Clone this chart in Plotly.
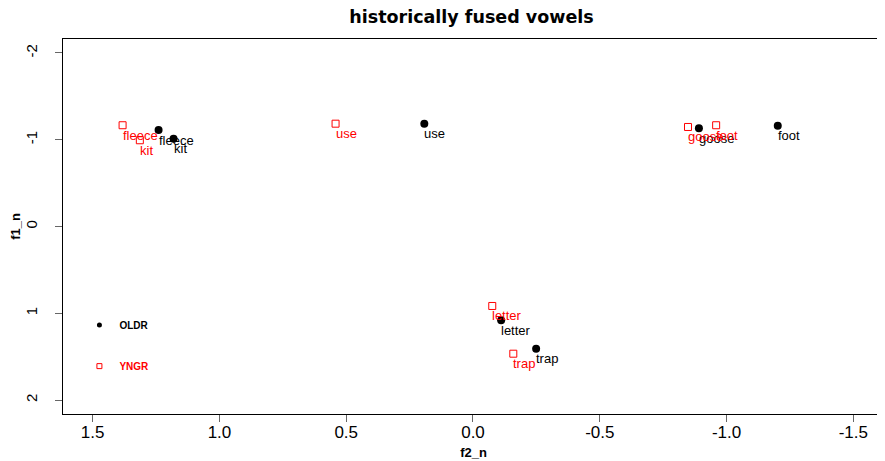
import plotly.graph_objects as go

vowels = ["fleece", "kit", "use", "goose", "foot", "letter", "trap"]
oldr_f2 = [1.240, 1.181, 0.192, -0.891, -1.202, -0.111, -0.249]
oldr_f1 = [-1.111, -1.011, -1.185, -1.132, -1.162, 1.081, 1.409]
yngr_f2 = [1.382, 1.314, 0.542, -0.848, -0.959, -0.076, -0.159]
yngr_f1 = [-1.167, -0.994, -1.185, -1.147, -1.167, 0.916, 1.466]
x_ticks = [1.5, 1.0, 0.5, 0.0, -0.5, -1.0, -1.5]
x_tick_labels = ["1.5", "1.0", "0.5", "0.0", "-0.5", "-1.0", "-1.5"]
y_ticks = [-2, -1, 0, 1, 2]
y_tick_labels = ["-2", "-1", "0", "1", "2"]

FONT = "Liberation Sans, Arial, sans-serif"
RED = "#FF0000"

fig = go.Figure()
fig.add_trace(go.Scatter(
    x=oldr_f2, y=oldr_f1, mode="markers",
    marker=dict(symbol="circle", size=8, color="black"),
    name="OLDR", showlegend=False, hoverinfo="skip"))
fig.add_trace(go.Scatter(
    x=yngr_f2, y=yngr_f1, mode="markers",
    marker=dict(symbol="square-open", size=7, color=RED, line=dict(width=1)),
    name="YNGR", showlegend=False, hoverinfo="skip"))
# legend entries
fig.add_trace(go.Scatter(
    x=[None], y=[None], mode="markers", name="<b>OLDR</b>", legendgroup="o",
    marker=dict(symbol="circle", size=5, color="black")))
fig.add_trace(go.Scatter(
    x=[None], y=[None], mode="markers",
    name='<b><span style="color:#FF0000">YNGR</span></b>', legendgroup="y",
    marker=dict(symbol="square-open", size=5, color=RED, line=dict(width=1))))

annotations = []
for xs, ys, col in [(oldr_f2, oldr_f1, "black"), (yngr_f2, yngr_f1, RED)]:
    for v, xv, yv in zip(vowels, xs, ys):
        annotations.append(dict(
            x=xv, y=yv, xref="x", yref="y", text=v, showarrow=False,
            xanchor="left", yanchor="middle", xshift=-2, yshift=-10,
            font=dict(size=13, color=col, family=FONT)))

# page body has an 8px margin, so the figure is shifted by (8, 8)
fig.update_layout(
    width=877, height=453,
    margin=dict(l=55, r=1, t=31, b=47),
    paper_bgcolor="white", plot_bgcolor="white",
    font=dict(family=FONT, color="black"),
    annotations=annotations,
    title=dict(text="<b>historically fused vowels</b>", x=0.5285, xanchor="center",
               y=0.980, yanchor="middle",
               font=dict(size=17.5, family="DejaVu Sans, sans-serif")),
    showlegend=True,
    legend=dict(x=0.0200, y=0.2757, xanchor="left", yanchor="top",
                bgcolor="rgba(0,0,0,0)", tracegroupgap=22,
                font=dict(size=10, family=FONT)),
    xaxis=dict(range=[1.617, -1.621], tickvals=x_ticks, ticktext=x_tick_labels,
               showgrid=False, zeroline=False, showline=True, linecolor="black",
               linewidth=1, mirror=True, ticks="outside", ticklen=7, tickcolor="#666",
               tickfont=dict(size=17), ticklabelstandoff=-4,
               title=dict(text="<b>f2_n</b>", font=dict(size=13), standoff=6)),
    yaxis=dict(range=[2.161, -2.161], tickvals=y_ticks, ticktext=y_tick_labels,
               showgrid=False, zeroline=False, showline=True, linecolor="black",
               linewidth=1, mirror=True, ticks="outside", ticklen=7, tickcolor="#666",
               tickangle=-90, tickfont=dict(size=15), ticklabelstandoff=12,
               title=dict(text="<b>f1_n</b>", font=dict(size=13), standoff=0)),
)
fig.write_html("out.html")
